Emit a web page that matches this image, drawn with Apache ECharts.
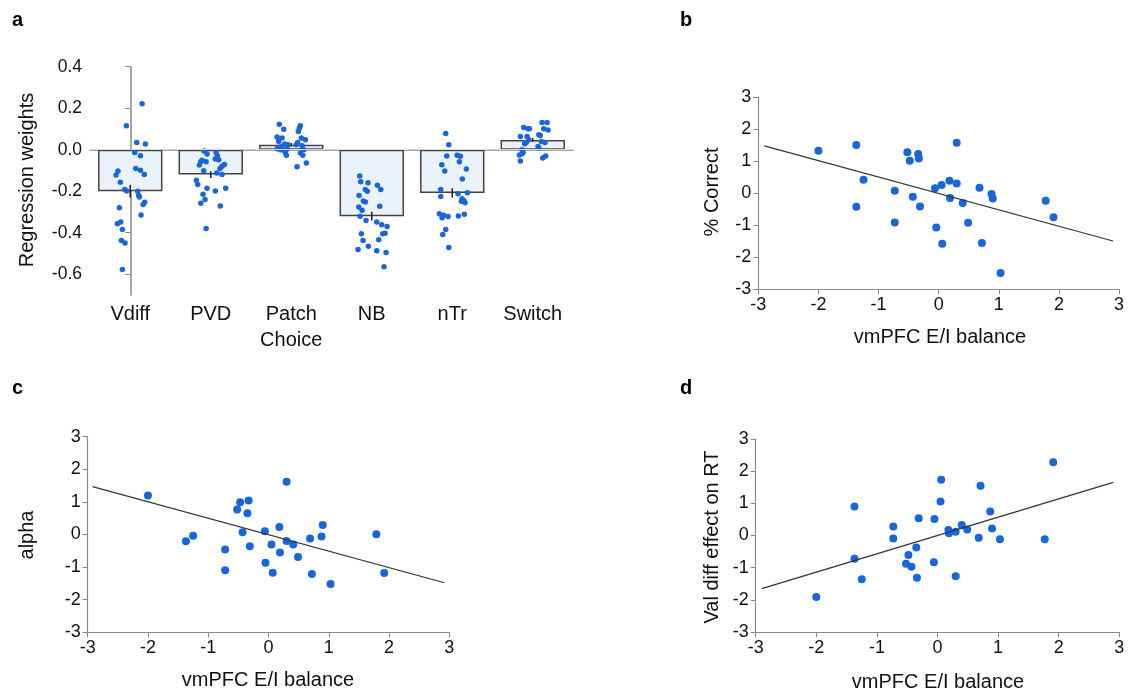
<!DOCTYPE html>
<html><head><meta charset="utf-8">
<script src="https://cdn.jsdelivr.net/npm/echarts@6/dist/echarts.min.js"></script>
<style>html,body{margin:0;padding:0;background:#fff}#c{width:1129px;height:691px}</style>
</head><body><div id="c"></div>
<script>
// ---------- Panel a data ----------
const categories = ['Vdiff', 'PVD', 'Patch\nChoice', 'NB', 'nTr', 'Switch'];
const barMeans = [-0.200, -0.120, 0.024, -0.320, -0.208, 0.047];
const barSem = [0.031, 0.016, 0.008, 0.021, 0.022, 0.009];
const aYTicks = [-0.6, -0.4, -0.2, 0.0, 0.2, 0.4];
// points: [horizontal offset within category, regression weight]
const vdiffPts = [[0.147,0.221],[-0.048,0.115],[0.08,0.035],[0.188,0.027],[0.056,-0.013],[0.126,-0.029],[0.068,-0.091],[0.126,-0.099],[0.175,-0.119],[-0.152,-0.103],[-0.176,-0.122],[-0.123,-0.157],[-0.069,-0.192],[-0.044,-0.199],[0.093,-0.2],[0.105,-0.221],[0.114,-0.228],[0.18,-0.253],[0.159,-0.264],[0.134,-0.314],[-0.135,-0.28],[-0.118,-0.348],[-0.16,-0.357],[-0.098,-0.385],[-0.11,-0.438],[-0.065,-0.449],[-0.098,-0.577]];
const pvdPts = [[-0.083,-0.006],[-0.046,-0.021],[0.066,-0.013],[0.082,-0.029],[0.057,-0.045],[0.099,-0.048],[-0.108,-0.051],[-0.124,-0.058],[-0.058,-0.058],[-0.141,-0.074],[0.169,-0.071],[0.14,-0.08],[0.116,-0.09],[-0.087,-0.101],[0.075,-0.112],[0.14,-0.12],[-0.179,-0.147],[-0.162,-0.168],[-0.046,-0.186],[0.186,-0.186],[0.057,-0.199],[-0.096,-0.215],[-0.071,-0.24],[-0.124,-0.258],[0.119,-0.271],[-0.058,-0.38]];
const patchPts = [[-0.148,0.123],[-0.093,0.099],[0.113,0.115],[0.1,0.104],[0.088,0.088],[-0.176,0.061],[-0.114,0.056],[0.125,0.056],[0.175,0.048],[-0.155,0.04],[0.081,0.035],[0.06,0.024],[0.134,0.019],[-0.081,0.027],[-0.04,0.024],[-0.123,0.016],[-0.176,0.005],[-0.135,0.0],[-0.093,-0.003],[-0.052,0.003],[0.155,0.0],[0.113,-0.016],[-0.073,-0.013],[-0.061,-0.027],[0.143,-0.027],[0.188,-0.064],[0.072,-0.082]];
const nbPts = [[-0.149,-0.127],[-0.137,-0.154],[-0.046,-0.159],[0.07,-0.171],[0.112,-0.192],[-0.08,-0.192],[-0.055,-0.2],[-0.158,-0.22],[-0.104,-0.247],[-0.08,-0.252],[-0.161,-0.276],[0.099,-0.272],[-0.12,-0.292],[-0.145,-0.32],[-0.071,-0.341],[0.062,-0.348],[0.124,-0.362],[0.19,-0.37],[-0.129,-0.405],[0.137,-0.405],[0.165,-0.402],[0.087,-0.434],[-0.108,-0.438],[-0.042,-0.465],[-0.17,-0.481],[0.062,-0.487],[0.178,-0.495],[0.153,-0.564]];
const ntrPts = [[-0.081,0.078],[-0.043,0.024],[-0.068,-0.03],[0.06,-0.027],[0.101,-0.032],[0.089,-0.058],[-0.13,-0.072],[0.175,-0.093],[-0.093,-0.103],[0.125,-0.141],[-0.143,-0.192],[0.072,-0.212],[0.188,-0.207],[-0.143,-0.226],[0.122,-0.236],[0.143,-0.245],[0.113,-0.248],[0.159,-0.256],[-0.16,-0.308],[-0.106,-0.316],[-0.052,-0.322],[-0.127,-0.328],[0.076,-0.319],[0.15,-0.311],[-0.081,-0.385],[-0.118,-0.409],[-0.043,-0.471]];
const switchPts = [[0.116,0.131],[0.178,0.131],[-0.112,0.107],[-0.058,0.101],[-0.042,0.101],[0.137,0.101],[0.19,0.095],[-0.154,0.064],[-0.071,0.064],[0.075,0.072],[0.094,0.069],[-0.05,0.048],[-0.08,0.035],[-0.1,0.029],[0.107,0.04],[0.153,0.035],[0.066,0.016],[0.075,0.008],[-0.133,0.0],[-0.12,-0.013],[-0.166,-0.026],[-0.133,-0.019],[0.161,-0.03],[0.124,-0.04],[-0.154,-0.054]];
const catPts = [vdiffPts, pvdPts, patchPts, nbPts, ntrPts, switchPts];

// ---------- Panel b/c/d data ----------
const bX = [-2.0,-1.37,-1.37,-1.25,-0.73,-0.73,-0.52,-0.48,-0.43,-0.34,-0.33,-0.31,-0.06,-0.04,0.05,0.06,0.18,0.19,0.30,0.30,0.40,0.49,0.68,0.72,0.88,0.90,1.03,1.78,1.91];
const bY = [1.33,1.51,-0.42,0.42,0.08,-0.91,1.28,1.02,-0.11,1.23,1.09,-0.41,0.16,-1.07,0.26,-1.58,0.39,-0.15,1.58,0.31,-0.30,-0.92,0.17,-1.55,-0.02,-0.16,-2.49,-0.23,-0.75];
const bFitX = [-2.9, 2.9];
const bFitY = [1.48, -1.49];

const cX = [-2.0,-1.37,-1.25,-0.72,-0.72,-0.52,-0.47,-0.43,-0.35,-0.33,-0.31,-0.06,-0.05,0.05,0.07,0.18,0.19,0.30,0.30,0.41,0.49,0.69,0.72,0.88,0.90,1.03,1.79,1.92];
const cY = [1.20,-0.21,-0.04,-0.46,-1.10,0.77,0.99,0.07,0.65,1.04,-0.36,0.10,-0.87,-0.31,-1.17,0.23,-0.55,1.62,-0.20,-0.31,-0.69,-0.12,-1.21,-0.06,0.29,-1.52,0.01,-1.18];
const cFitX = [-2.92, 2.92];
const cFitY = [1.47, -1.48];

const dX = [-2.0,-1.37,-1.37,-1.25,-0.73,-0.73,-0.52,-0.48,-0.43,-0.35,-0.34,-0.31,-0.06,-0.05,0.05,0.06,0.18,0.19,0.30,0.30,0.40,0.49,0.68,0.71,0.87,0.90,1.03,1.77,1.91];
const dY = [-1.91,0.90,-0.72,-1.36,0.28,-0.09,-0.88,-0.61,-0.97,-0.37,-1.31,0.54,-0.83,0.51,1.06,1.73,0.17,0.07,0.12,-1.27,0.33,0.19,-0.07,1.55,0.75,0.22,-0.12,-0.12,2.28];
const dFitX = [-2.9, 2.9];
const dFitY = [-1.65, 1.65];

// ---------- styles ----------
const FONT = 'Liberation Sans, Arial, Helvetica, sans-serif';
const DOT = '#1a66d6';
const AXIS = '#8a8a8a';

function scatterAxis(grid) {
  return {
    gridIndex: grid, type: 'value', min: -3, max: 3, interval: 1,
    axisLine: { show: true, onZero: false, lineStyle: { color: AXIS, width: 1.2 } },
    axisTick: { show: true, length: 5, lineStyle: { color: AXIS } },
    splitLine: { show: false },
    axisLabel: { fontSize: 18, color: '#111', fontFamily: FONT, margin: 7 }
  };
}
function zip(xs, ys) { return xs.map((x, i) => [x, ys[i]]); }

const aPoints = [];
catPts.forEach((pts, i) => pts.forEach(p => aPoints.push([i + p[0], p[1]])));

const chart = echarts.init(document.getElementById('c'), null, { renderer: 'canvas' });
chart.setOption({
  backgroundColor: '#fff',
  animation: false,
  textStyle: { fontFamily: FONT },
  grid: [
    { left: 90, top: 66.7, width: 483, height: 228.3 },
    { left: 758.3, top: 97.3, width: 360.7, height: 192 },
    { left: 87.7, top: 436.7, width: 361.6, height: 195.6 },
    { left: 755.7, top: 439, width: 363.6, height: 193 }
  ],
  xAxis: [
    {
      gridIndex: 0, type: 'category', data: categories,
      axisLine: { lineStyle: { color: AXIS, width: 1.5 } },
      axisTick: { alignWithLabel: true, interval: 0, length: 5, lineStyle: { color: AXIS } },
      axisLabel: { interval: 0, fontSize: 20, color: '#111', fontFamily: FONT, margin: 6, lineHeight: 26 }
    },
    { gridIndex: 0, type: 'value', min: -0.5, max: 5.5, show: false },
    scatterAxis(1), scatterAxis(2), scatterAxis(3)
  ],
  yAxis: [
    {
      gridIndex: 0, type: 'value', min: -0.7, max: 0.4,
      axisLine: { show: true, lineStyle: { color: AXIS, width: 1.5 } },
      axisTick: { show: true, length: 5, customValues: aYTicks, lineStyle: { color: AXIS } },
      axisLabel: { fontSize: 17.5, color: '#111', fontFamily: FONT, margin: 8, customValues: aYTicks,
                   formatter: v => Number(v).toFixed(1) },
      splitLine: { show: false }
    },
    scatterAxis(1), scatterAxis(2), scatterAxis(3)
  ],
  series: [
    { type: 'scatter', xAxisIndex: 1, yAxisIndex: 0, data: [], silent: true, z: 1,
      markLine: { silent: true, symbol: 'none', label: { show: false },
                  lineStyle: { color: '#d6d6d6', width: 1, type: 'solid' }, data: [{ yAxis: 0 }] } },
    { type: 'bar', xAxisIndex: 0, yAxisIndex: 0, data: barMeans, barWidth: '80%', z: 2,
      itemStyle: { color: '#eaf3fc', borderColor: '#444', borderWidth: 1.5 } },
    { type: 'custom', xAxisIndex: 1, yAxisIndex: 0, z: 3,
      data: barMeans.map((m, i) => [i, m, barSem[i]]),
      renderItem: (params, api) => {
        const x = api.value(0), m = api.value(1), s = api.value(2);
        const t = api.coord([x, m + s]), b = api.coord([x, m - s]);
        return { type: 'line', shape: { x1: t[0], y1: t[1], x2: b[0], y2: b[1] },
                 style: { stroke: '#222', lineWidth: 1.5 } };
      } },
    { type: 'scatter', xAxisIndex: 1, yAxisIndex: 0, data: aPoints, symbolSize: 5.5, z: 4,
      itemStyle: { color: DOT, opacity: 1 } },

    { type: 'scatter', xAxisIndex: 2, yAxisIndex: 1, data: zip(bX, bY), symbolSize: 8, itemStyle: { color: DOT, opacity: 1 } },
    { type: 'line', xAxisIndex: 2, yAxisIndex: 1, data: zip(bFitX, bFitY), symbol: 'none', lineStyle: { color: '#333', width: 1.2 } },
    { type: 'scatter', xAxisIndex: 3, yAxisIndex: 2, data: zip(cX, cY), symbolSize: 8, itemStyle: { color: DOT, opacity: 1 } },
    { type: 'line', xAxisIndex: 3, yAxisIndex: 2, data: zip(cFitX, cFitY), symbol: 'none', lineStyle: { color: '#333', width: 1.2 } },
    { type: 'scatter', xAxisIndex: 4, yAxisIndex: 3, data: zip(dX, dY), symbolSize: 8, itemStyle: { color: DOT, opacity: 1 } },
    { type: 'line', xAxisIndex: 4, yAxisIndex: 3, data: zip(dFitX, dFitY), symbol: 'none', lineStyle: { color: '#333', width: 1.2 } }
  ],
  graphic: [
    { type: 'text', left: 12, top: 10, style: { text: 'a', font: 'bold 20px ' + FONT, fill: '#000' } },
    { type: 'text', left: 680, top: 10, style: { text: 'b', font: 'bold 20px ' + FONT, fill: '#000' } },
    { type: 'text', left: 12, top: 378, style: { text: 'c', font: 'bold 20px ' + FONT, fill: '#000' } },
    { type: 'text', left: 680, top: 378, style: { text: 'd', font: 'bold 20px ' + FONT, fill: '#000' } },
    { type: 'text', x: 27, y: 180, rotation: Math.PI / 2,
      style: { text: 'Regression weights', font: '20px ' + FONT, fill: '#111', align: 'center', verticalAlign: 'middle' } },
    { type: 'text', x: 712, y: 192, rotation: Math.PI / 2,
      style: { text: '% Correct', font: '20px ' + FONT, fill: '#111', align: 'center', verticalAlign: 'middle' } },
    { type: 'text', x: 940, y: 337,
      style: { text: 'vmPFC E/I balance', font: '20px ' + FONT, fill: '#111', align: 'center', verticalAlign: 'middle' } },
    { type: 'text', x: 27, y: 535, rotation: Math.PI / 2,
      style: { text: 'alpha', font: '20px ' + FONT, fill: '#111', align: 'center', verticalAlign: 'middle' } },
    { type: 'text', x: 268, y: 680,
      style: { text: 'vmPFC E/I balance', font: '20px ' + FONT, fill: '#111', align: 'center', verticalAlign: 'middle' } },
    { type: 'text', x: 712, y: 537, rotation: Math.PI / 2,
      style: { text: 'Val diff effect on RT', font: '20px ' + FONT, fill: '#111', align: 'center', verticalAlign: 'middle' } },
    { type: 'text', x: 938, y: 682,
      style: { text: 'vmPFC E/I balance', font: '20px ' + FONT, fill: '#111', align: 'center', verticalAlign: 'middle' } }
  ]
});
</script>
</body></html>
